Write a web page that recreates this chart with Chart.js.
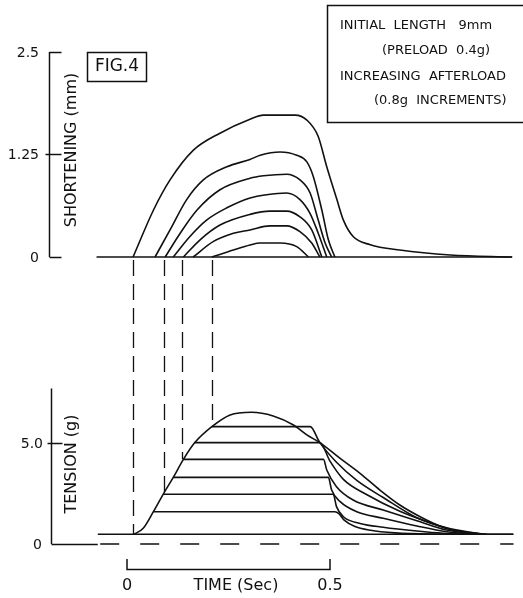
<!DOCTYPE html>
<html>
<head>
<meta charset="utf-8">
<script src="https://cdn.jsdelivr.net/npm/chart.js@4.4.1/dist/chart.umd.min.js"></script>
<style>
  html, body { margin: 0; padding: 0; background: #fff; }
  #wrap { width: 523px; height: 598px; position: relative; }
</style>
</head>
<body>
<div id="wrap"><canvas id="fig"></canvas></div>
<script>
// time in seconds, shortening in mm, tension in g
const shortTicks = [0, 1.25, 2.5];
const shortTickLabels = ['0', '1.25', '2.5'];
const tensionTicks = [0, 5.0];
const tensionTickLabels = ['0', '5.0'];
const timeTicks = [0, 0.5];
const timeTickLabels = ['0', '0.5'];

const baseT = [-0.075, 0.949];

// shortening traces, largest (preload only) first
const sh1T = [0.015, 0.065, 0.106, 0.163, 0.229, 0.303, 0.336, 0.414, 0.443, 0.471, 0.492, 0.517, 0.533, 0.557, 0.599, 0.672, 0.796, 0.948];
const sh1 = [0, 0.57, 0.94, 1.30, 1.51, 1.68, 1.73, 1.73, 1.67, 1.47, 1.10, 0.70, 0.45, 0.25, 0.15, 0.085, 0.025, 0];
const sh2T = [0.069, 0.106, 0.147, 0.188, 0.246, 0.303, 0.328, 0.377, 0.418, 0.443, 0.459, 0.480, 0.496, 0.512];
const sh2 = [0, 0.33, 0.70, 0.94, 1.10, 1.19, 1.24, 1.28, 1.24, 1.16, 0.98, 0.57, 0.21, 0];
const sh3T = [0.094, 0.131, 0.172, 0.229, 0.303, 0.336, 0.393, 0.426, 0.451, 0.471, 0.488, 0.504];
const sh3 = [0, 0.29, 0.57, 0.82, 0.96, 0.99, 1.01, 0.94, 0.78, 0.45, 0.17, 0];
const sh4T = [0.114, 0.155, 0.196, 0.246, 0.303, 0.344, 0.393, 0.426, 0.451, 0.471, 0.492];
const sh4 = [0, 0.25, 0.45, 0.60, 0.72, 0.76, 0.78, 0.70, 0.53, 0.29, 0];
const sh5T = [0.139, 0.180, 0.229, 0.303, 0.352, 0.393, 0.426, 0.455, 0.480];
const sh5 = [0, 0.21, 0.39, 0.52, 0.56, 0.56, 0.49, 0.33, 0];
const sh6T = [0.163, 0.213, 0.262, 0.303, 0.352, 0.393, 0.426, 0.455, 0.475];
const sh6 = [0, 0.19, 0.29, 0.33, 0.38, 0.38, 0.31, 0.17, 0];
const sh7T = [0.209, 0.262, 0.303, 0.328, 0.377, 0.418, 0.447];
const sh7 = [0, 0.085, 0.146, 0.17, 0.17, 0.126, 0];

// tension: isometric envelope and afterloaded traces
const preload = 0.48;
const isoT = [0.017, 0.040, 0.065, 0.089, 0.114, 0.139, 0.167, 0.209, 0.254, 0.307, 0.360, 0.410, 0.443, 0.475, 0.525, 0.574, 0.623, 0.672, 0.722, 0.771, 0.820, 0.886, 0.951];
const isoG = [0.48, 0.78, 1.60, 2.46, 3.30, 4.19, 5.02, 5.81, 6.39, 6.52, 6.34, 5.89, 5.40, 5.02, 4.24, 3.50, 2.67, 1.93, 1.35, 0.89, 0.61, 0.48, 0.48];

const afterloads = [1.60, 2.46, 3.30, 4.19, 5.02, 5.81];
const plateauStart = [0.065, 0.089, 0.114, 0.139, 0.167, 0.209];
const relax1T = [0.512, 0.522, 0.535, 0.560, 0.600, 0.660, 0.750, 0.850];
const relax1G = [1.60, 1.50, 1.18, 0.88, 0.68, 0.55, 0.49, 0.48];
const relax2T = [0.508, 0.516, 0.533, 0.574, 0.631, 0.714, 0.779, 0.853];
const relax2G = [2.46, 1.85, 1.35, 1.02, 0.83, 0.64, 0.53, 0.48];
const relax3T = [0.496, 0.504, 0.525, 0.566, 0.631, 0.714, 0.787, 0.869];
const relax3G = [3.30, 2.67, 2.10, 1.60, 1.27, 0.89, 0.61, 0.48];
const relax4T = [0.484, 0.492, 0.516, 0.557, 0.631, 0.714, 0.787, 0.878];
const relax4G = [4.19, 3.66, 2.84, 2.18, 1.68, 1.15, 0.69, 0.48];
const relax5T = [0.475, 0.500, 0.533, 0.590, 0.672, 0.754, 0.796, 0.886];
const relax5G = [5.02, 4.10, 3.20, 2.45, 1.62, 1.00, 0.72, 0.48];
const relax6T = [0.451, 0.475, 0.516, 0.566, 0.631, 0.714, 0.787, 0.869];
const relax6G = [5.81, 5.02, 4.05, 3.15, 2.30, 1.30, 0.80, 0.50];

// dashed drop lines: shortening onset -> tension envelope
const dropT = [0.015, 0.091, 0.136, 0.209];
const dropG = [0.48, 2.46, 4.19, 5.89];

const ink = '#111';
const font = '"DejaVu Sans", sans-serif';

function pts(ts, vs) {
    return ts.map((t, i) => ({ x: t, y: vs[i] }));
}

function trace(data, axis, extra) {
    return Object.assign({
        data: data,
        yAxisID: axis,
        borderColor: ink,
        borderWidth: 1.6,
        pointRadius: 0,
        fill: false,
        tension: 0.3,
        cubicInterpolationMode: 'monotone'
    }, extra || {});
}

const datasets = [];
datasets.push(trace(pts(baseT, [0, 0]), 'yS', { cubicInterpolationMode: 'default', tension: 0 }));
[[sh1T, sh1], [sh2T, sh2], [sh3T, sh3], [sh4T, sh4], [sh5T, sh5], [sh6T, sh6], [sh7T, sh7]].forEach(c => {
    datasets.push(trace(pts(c[0], c[1]), 'yS'));
});

datasets.push(trace(pts([-0.072, 0.952], [preload, preload]), 'yT', { cubicInterpolationMode: 'default', tension: 0 }));
datasets.push(trace(pts([-0.066, 0.952], [0, 0]), 'yT', { cubicInterpolationMode: 'default', tension: 0, borderWidth: 1.3, borderDash: [19, 21] }));
datasets.push(trace(pts(isoT, isoG), 'yT'));
const relaxT = [relax1T, relax2T, relax3T, relax4T, relax5T, relax6T];
const relaxG = [relax1G, relax2G, relax3G, relax4G, relax5G, relax6G];
afterloads.forEach((g, i) => {
    const p = [{ x: plateauStart[i], y: g }].concat(pts(relaxT[i], relaxG[i]));
    datasets.push(trace(p, 'yT'));
});

const decor = {
    id: 'decor',
    afterDatasetsDraw(chart) {
        const ctx = chart.ctx;
        const xs = chart.scales.x, ys = chart.scales.yS, yt = chart.scales.yT;
        ctx.save();
        ctx.strokeStyle = ink;
        ctx.fillStyle = ink;
        ctx.lineWidth = 1.5;
        function seg(x1, y1, x2, y2) {
            ctx.beginPath(); ctx.moveTo(x1, y1); ctx.lineTo(x2, y2); ctx.stroke();
        }

        // shortening axis
        const axS = 49.5;
        seg(axS, ys.getPixelForValue(2.5), axS, ys.getPixelForValue(0));
        ctx.font = '14px ' + font;
        ctx.textAlign = 'right';
        ctx.textBaseline = 'middle';
        shortTicks.forEach((v, i) => {
            const py = Math.round(ys.getPixelForValue(v)) + 0.5;
            seg(v === 1.25 ? axS - 4 : axS, py, axS + 12, py);
            ctx.fillText(shortTickLabels[i], 39, py + 1);
        });

        // tension axis
        const axT = 51.5;
        seg(axT, yt.getPixelForValue(7.7), axT, yt.getPixelForValue(0));
        tensionTicks.forEach((v, i) => {
            const py = Math.round(yt.getPixelForValue(v)) + 0.5;
            if (v === 0) {
                seg(axT, py, xs.getPixelForValue(-0.072), py);
            } else {
                seg(axT - 4, py, axT + 11, py);
            }
            ctx.fillText(tensionTickLabels[i], v === 0 ? 42 : 43, py + 1);
        });

        // axis titles
        ctx.font = '16px ' + font;
        ctx.textAlign = 'center';
        ctx.save();
        ctx.translate(72, 150);
        ctx.rotate(-Math.PI / 2);
        ctx.fillText('SHORTENING (mm)', 0, 0);
        ctx.restore();
        ctx.save();
        ctx.translate(72, 464);
        ctx.rotate(-Math.PI / 2);
        ctx.fillText('TENSION (g)', 0, 0);
        ctx.restore();

        // dashed drop lines
        ctx.setLineDash([16, 8]);
        ctx.lineWidth = 1.3;
        dropT.forEach((t, i) => {
            const px = Math.round(xs.getPixelForValue(t)) + 0.5;
            seg(px, ys.getPixelForValue(0) + 3, px, yt.getPixelForValue(dropG[i]));
        });
        ctx.setLineDash([]);

        // time bracket
        ctx.lineWidth = 1.5;
        const x0 = xs.getPixelForValue(timeTicks[0]), x1 = xs.getPixelForValue(timeTicks[1]);
        ctx.beginPath();
        ctx.moveTo(x0, 559); ctx.lineTo(x0, 569.5); ctx.lineTo(x1, 569.5); ctx.lineTo(x1, 559);
        ctx.stroke();
        ctx.font = '16px ' + font;
        ctx.textAlign = 'center';
        timeTicks.forEach((t, i) => {
            ctx.fillText(timeTickLabels[i], xs.getPixelForValue(t), 586);
        });
        ctx.fillText('TIME (Sec)', 236, 586);

        // FIG.4 box
        ctx.strokeRect(87.5, 52.5, 59, 29);
        ctx.font = '17px ' + font;
        ctx.fillText('FIG.4', 117, 67);

        // note box
        ctx.strokeRect(327.5, 5.5, 210, 117);
        ctx.font = '13px ' + font;
        ctx.textAlign = 'left';
        ctx.fillText('INITIAL  LENGTH   9mm', 340, 26);
        ctx.fillText('(PRELOAD  0.4g)', 382, 51);
        ctx.fillText('INCREASING  AFTERLOAD', 340, 77);
        ctx.fillText('(0.8g  INCREMENTS)', 374, 101);
        ctx.restore();
    }
};

new Chart(document.getElementById('fig'), {
    type: 'line',
    data: { datasets: datasets },
    options: {
        responsive: true,
        maintainAspectRatio: false,
        animation: false,
        events: [],
        layout: { padding: 0 },
        plugins: { legend: { display: false }, tooltip: { enabled: false } },
        scales: {
            x: { type: 'linear', display: false, min: -0.31281, max: 0.97537 },
            yS: { type: 'linear', display: false, min: -4.1585, max: 3.1341 },
            yT: { type: 'linear', display: false, min: -2.6733, max: 26.931 }
        }
    },
    plugins: [decor]
});
</script>
</body>
</html>
